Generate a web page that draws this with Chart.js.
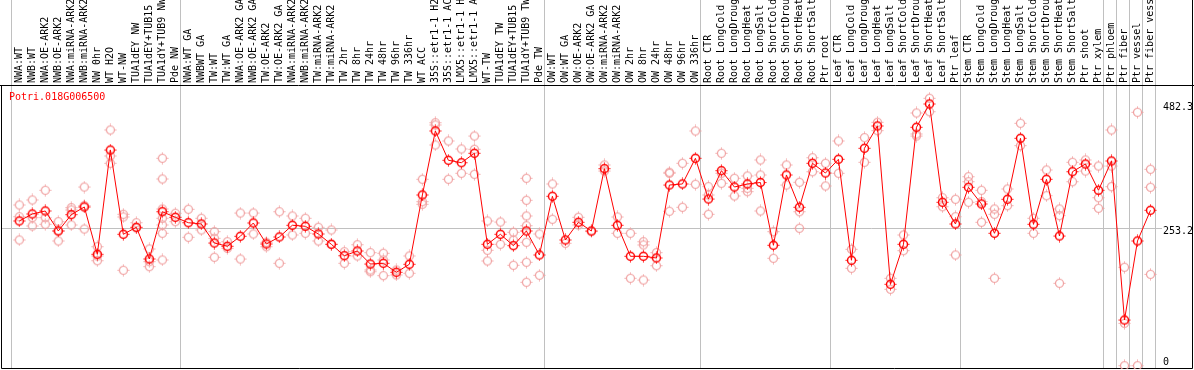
<!DOCTYPE html>
<html>
<head>
<meta charset="utf-8">
<script src="https://cdn.jsdelivr.net/npm/chart.js@4/dist/chart.umd.min.js"></script>
<style>
  body { margin: 0; background: #fff; }
  canvas { display: block; }
</style>
</head>
<body>
<canvas id="myChart" width="1194" height="370"></canvas>
<script>
var geneName = "Potri.018G006500";

var labels = [
  "NWA:WT", "NWB:WT", "NWA:OE-ARK2", "NWB:OE-ARK2", "NWA:miRNA-ARK2", "NWB:miRNA-ARK2",
  "NW 0hr", "WT H2O", "WT-NW", "TUA1dEY NW", "TUA1dEY+TUB15", "TUA1dY+TUB9 NW", "Pde NW",
  "NWA:WT GA", "NWBWT GA", "TW:WT", "TW:WT GA", "NWA:OE-ARK2 GA", "NWB:OE-ARK2 GA",
  "TW:OE-ARK2", "TW:OE-ARK2 GA", "NWA:miRNA-ARK2", "NWB:miRNA-ARK2", "TW:miRNA-ARK2",
  "TW:miRNA-ARK2", "TW 2hr", "TW 8hr", "TW 24hr", "TW 48hr", "TW 96hr", "TW 336hr",
  "WT ACC", "35S::etr1-1 H2", "35S::etr1-1 AC", "LMX5::etr1-1 H", "LMX5::etr1-1 A",
  "WT-TW", "TUA1dEY TW", "TUA1dEY+TUB15", "TUA1dY+TUB9 TW", "Pde TW",
  "OW:WT", "OW:WT GA", "OW:OE-ARK2", "OW:OE-ARK2 GA", "OW:miRNA-ARK2", "OW:miRNA-ARK2",
  "OW 2hr", "OW 8hr", "OW 24hr", "OW 48hr", "OW 96hr", "OW 336hr",
  "Root CTR", "Root LongCold", "Root LongDroug", "Root LongHeat", "Root LongSalt",
  "Root ShortCold", "Root ShortDrou", "Root ShortHeat", "Root ShortSalt", "Ptr root",
  "Leaf CTR", "Leaf LongCold", "Leaf LongDroug", "Leaf LongHeat", "Leaf LongSalt",
  "Leaf ShortCold", "Leaf ShortDrou", "Leaf ShortHeat", "Leaf ShortSalt", "Ptr leaf",
  "Stem CTR", "Stem LongCold", "Stem LongDroug", "Stem LongHeat", "Stem LongSalt",
  "Stem ShortCold", "Stem ShortDrou", "Stem ShortHeat", "Stem ShortSalt", "Ptr shoot",
  "Ptr xylem", "Ptr phloem", "Ptr fiber", "Ptr vessel", "Ptr fiber vess"
];

// mean expression per sample
var means = [
  266.7, 279.6, 285.1, 248.3, 278.3, 292.5, 205.3, 397.5, 242.2, 255.1, 196.7, 283.8, 273.5,
  263.5, 261.2, 226.1, 220.1, 238.5, 263.0, 224.3, 237.2, 258.8, 256.9, 242.7, 223.7, 202.7,
  211.4, 187.4, 188.7, 172.1, 186.9, 314.6, 432.6, 378.6, 374.1, 391.5, 223.7, 242.2, 221.2,
  248.3, 204.0,
  312.2, 231.7, 264.3, 248.3, 363.1, 258.8, 201.6, 201.6, 198.5, 333.0, 334.9, 382.2,
  307.2, 359.4, 329.3, 334.9, 337.6, 221.9, 351.5, 291.9, 373.0, 355.1,
  380.4, 194.3, 400.7, 441.8, 150.0, 223.7, 439.4, 482.3, 301.1, 261.2,
  328.8, 298.0, 244.0, 306.7, 419.1, 260.6, 343.5, 239.0, 357.5, 371.7, 323.3,
  377.3, 84.2, 229.8, 286.4
];

// individual replicates per sample
var reps = [
  [296.2, 274.6, 231.7], [305.4, 272.8, 257.5], [323.3, 272.8, 260.6], [265.4, 248.3, 229.8],
  [291.2, 287.0, 259.3], [329.3, 294.9, 251.9], [219.3, 202.2, 193.5], [434.4, 386.5, 373.0],
  [279.0, 274.1, 175.8], [263.5, 253.8], [215.1, 191.7, 182.5],
  [382.2, 344.1, 288.8, 271.7, 259.3, 244.0, 194.8], [280.9, 265.4],
  [288.2, 236.6], [271.7, 250.1], [247.0, 234.8, 199.8], [228.5, 216.4], [281.4, 196.6],
  [281.4, 242.7], [227.4, 219.3], [283.8, 188.7], [275.9, 240.9], [271.7, 244.0],
  [255.1, 229.8], [250.1, 223.7], [210.1, 188.7], [223.0, 202.2], [208.3, 176.4, 173.2],
  [207.2, 194.8, 165.9], [176.4, 167.2], [202.2, 170.3], [343.5, 302.3, 297.5],
  [447.8, 443.6, 406.8], [414.1, 343.5], [399.4, 354.6], [423.3, 398.8, 352.8],
  [266.7, 212.7, 193.0], [264.8, 223.7], [245.9, 231.7, 185.0],
  [345.4, 304.8, 275.9, 258.0, 227.4, 190.6, 153.7], [242.7, 166.6],
  [334.9, 269.8], [225.6], [273.5, 259.3], [247.0], [369.9, 358.8], [274.1, 244.0],
  [244.0, 161.1], [228.5, 222.5, 157.9], [208.3, 184.3], [356.4, 354.6, 284.6],
  [373.0, 291.9], [432.6, 334.3],
  [329.9, 314.6, 279.0], [391.5, 354.6, 336.2], [345.4, 312.8], [349.6, 327.0, 320.7],
  [379.1, 351.5, 285.1], [247.0, 198.0], [369.9, 333.0], [338.0, 283.8, 253.2],
  [383.3, 357.5], [373.0, 331.2],
  [414.1, 354.6], [214.5, 179.5], [420.2, 374.9], [448.6, 433.1], [161.1, 140.8],
  [240.9, 212.0], [465.7, 427.0, 423.3], [492.8, 468.1], [309.6, 293.0],
  [306.7, 274.6, 204.0],
  [348.3, 339.1, 301.1], [323.3, 302.3, 264.3], [288.8, 279.0, 161.1], [325.7, 294.9],
  [446.7, 405.5], [271.7, 244.0], [360.7, 313.3], [288.8, 276.5, 151.9], [374.9, 339.1],
  [379.1, 358.8], [368.0, 309.6, 290.1],
  [434.4, 368.0, 329.9], [181.4, 78.1, 0], [467.0, 0], [362.0, 328.8, 168.4]
];

var yTicks = [0, 253.2, 482.3];
var groupEnds = [12, 40, 52, 62, 72, 83, 84, 85, 86, 87];

function makeMarker(color, lw) {
  var c = document.createElement("canvas");
  c.width = 13; c.height = 13;
  var g = c.getContext("2d");
  g.strokeStyle = color;
  g.lineWidth = lw;
  g.beginPath();
  g.arc(6.5, 6.5, 4, 0, Math.PI * 2);
  g.stroke();
  g.lineWidth = 1;
  g.beginPath();
  g.moveTo(6.5, 0.5); g.lineTo(6.5, 1.8);
  g.moveTo(6.5, 11.2); g.lineTo(6.5, 12.5);
  g.moveTo(0.5, 6.5); g.lineTo(1.8, 6.5);
  g.moveTo(11.2, 6.5); g.lineTo(12.5, 6.5);
  g.stroke();
  return c;
}

var meanMarker = makeMarker("#ff0000", 1.5);
var repMarker = makeMarker("#f0a0a0", 1.2);

var maxReps = 0;
reps.forEach(function(r) { if (r.length > maxReps) maxReps = r.length; });

var datasets = [{
  data: means,
  borderColor: "#ff0000",
  borderWidth: 1,
  pointStyle: meanMarker,
  pointRadius: 5,
  tension: 0,
  fill: false
}];
for (var k = 0; k < maxReps; k++) {
  datasets.push({
    data: reps.map(function(r) { return r[k] === undefined ? null : r[k]; }),
    showLine: false,
    pointStyle: repMarker,
    pointRadius: 5,
    borderColor: "#f0a0a0"
  });
}

var framePlugin = {
  id: "frame",
  beforeDatasetsDraw: function(chart) {
    var ctx = chart.ctx;
    var xs = chart.scales.x, ys = chart.scales.y;
    var step = xs.getPixelForValue(1) - xs.getPixelForValue(0);
    ctx.save();
    ctx.strokeStyle = "#c0c0c0";
    ctx.lineWidth = 1;
    ctx.beginPath();
    var gy = Math.round(ys.getPixelForValue(253.2)) + 0.5;
    ctx.moveTo(1, gy); ctx.lineTo(1162, gy);
    var bx = [xs.getPixelForValue(0) - step / 2];
    groupEnds.forEach(function(i) { bx.push(xs.getPixelForValue(i) + step / 2); });
    bx.forEach(function(x) {
      var px = Math.round(x - 2) + 0.5;
      ctx.moveTo(px, 0); ctx.lineTo(px, 369);
    });
    ctx.stroke();
    ctx.strokeStyle = "#000";
    ctx.beginPath();
    ctx.moveTo(0, 85.5); ctx.lineTo(1194, 85.5);
    ctx.moveTo(1.5, 85.5); ctx.lineTo(1.5, 368.5);
    ctx.lineTo(1192.5, 368.5);
    ctx.moveTo(1192.5, 0); ctx.lineTo(1192.5, 368.5);
    ctx.stroke();
    ctx.fillStyle = "#ff0000";
    ctx.font = "10px 'DejaVu Sans Mono'";
    ctx.textBaseline = "middle";
    ctx.fillText(geneName, 9, 97);
    ctx.restore();
  }
};

new Chart(document.getElementById("myChart"), {
  type: "line",
  data: { labels: labels, datasets: datasets },
  options: {
    responsive: false,
    animation: false,
    devicePixelRatio: 1,
    layout: { autoPadding: false, padding: { left: 12.8, right: 0, top: 0, bottom: 1 } },
    plugins: { legend: { display: false }, tooltip: { enabled: false } },
    scales: {
      x: {
        type: "category",
        position: "top",
        offset: true,
        grid: { display: false, drawTicks: false },
        border: { display: false },
        ticks: {
          autoSkip: false,
          minRotation: 90,
          maxRotation: 90,
          padding: 2,
          labelOffset: 12,
          color: "#000",
          font: { family: "DejaVu Sans Mono", size: 10 }
        },
        afterFit: function(scale) { scale.height = 85; }
      },
      y: {
        position: "right",
        min: -6.1,
        max: 517.3,
        grid: { display: false, drawTicks: false },
        border: { display: false },
        afterBuildTicks: function(scale) {
          scale.ticks = yTicks.map(function(v) { return { value: v }; });
        },
        ticks: {
          padding: 6,
          labelOffset: 3,
          color: "#000",
          font: { family: "DejaVu Sans Mono", size: 10 },
          callback: function(v) { return v === 0 ? ["0", ""] : v.toFixed(1); }
        },
        afterFit: function(scale) {
          scale.width = 37;
          scale.paddingTop = 0;
          scale.paddingBottom = 0;
        }
      }
    }
  },
  plugins: [framePlugin]
});
</script>
</body>
</html>
